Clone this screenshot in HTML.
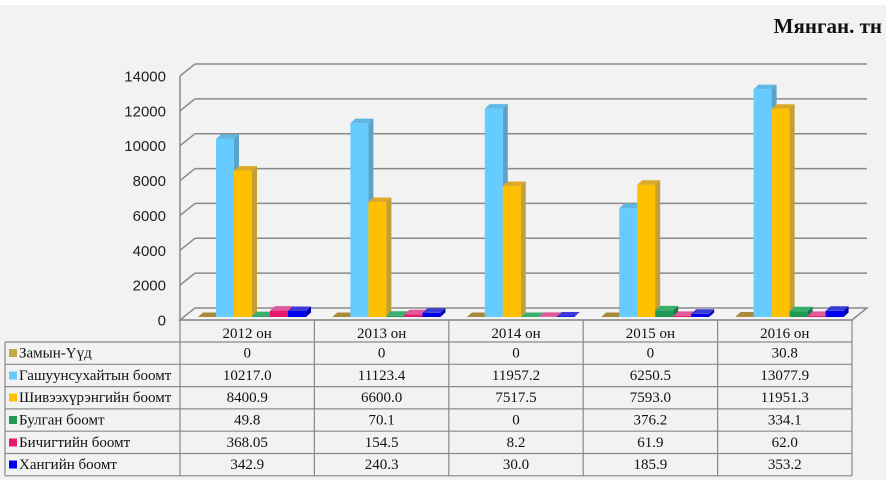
<!DOCTYPE html>
<html><head><meta charset="utf-8"><style>
html,body{margin:0;padding:0;background:#fff;}
svg{display:block;}
.f0{fill:#c0a040}.t0{fill:#a88a3a}.d0{fill:#8a7030}
.f1{fill:#66ccff}.t1{fill:#5fb8e2}.d1{fill:#5ba3c8}
.f2{fill:#ffc000}.t2{fill:#dcaa28}.d2{fill:#c4a032}
.f3{fill:#1f9a55}.t3{fill:#3aae6c}.d3{fill:#177a43}
.f4{fill:#e8186e}.t4{fill:#e0589a}.d4{fill:#a81050}
.f5{fill:#0000ee}.t5{fill:#3a3ad8}.d5{fill:#0000a8}
.ax{font-family:"Liberation Sans",sans-serif;font-size:15px;fill:#222;}
.tb{font-family:"Liberation Serif","DejaVu Serif",serif;font-size:15px;fill:#111;}
</style></head><body>
<svg width="891" height="480" viewBox="0 0 891 480" xmlns="http://www.w3.org/2000/svg">
<rect x="0" y="5" width="886" height="475" fill="#f2f2f2"/>
<text x="882" y="33" text-anchor="end" font-family="Liberation Serif, serif" font-weight="bold" font-size="21" fill="#111">Мянган. тн</text>

<!-- grid -->
<g stroke="#8a8a8a" stroke-width="1.5" fill="none">
<polygon points="180,320 195,308 867,308 852,320" fill="#f3f3f3"/>
<line x1="195" y1="273.14" x2="867" y2="273.14"/><line x1="180" y1="285.14" x2="195" y2="273.14"/>
<line x1="195" y1="238.29" x2="867" y2="238.29"/><line x1="180" y1="250.29" x2="195" y2="238.29"/>
<line x1="195" y1="203.43" x2="867" y2="203.43"/><line x1="180" y1="215.43" x2="195" y2="203.43"/>
<line x1="195" y1="168.57" x2="867" y2="168.57"/><line x1="180" y1="180.57" x2="195" y2="168.57"/>
<line x1="195" y1="133.71" x2="867" y2="133.71"/><line x1="180" y1="145.71" x2="195" y2="133.71"/>
<line x1="195" y1="98.86" x2="867" y2="98.86"/><line x1="180" y1="110.86" x2="195" y2="98.86"/>
<line x1="195" y1="64" x2="867" y2="64"/><line x1="180" y1="76" x2="195" y2="64"/>
<line x1="180" y1="76" x2="180" y2="320"/>
</g>

<g class="ax" text-anchor="end">
<text x="166" y="325.5">0</text>
<text x="166" y="290.6">2000</text>
<text x="166" y="255.8">4000</text>
<text x="166" y="220.9">6000</text>
<text x="166" y="186.1">8000</text>
<text x="166" y="151.2">10000</text>
<text x="166" y="116.4">12000</text>
<text x="166" y="81.5">14000</text>
</g>

<!-- bars 2012 -->
<g transform="translate(198,0)"><polygon class="t0" points="0,317 18,317 23,312.5 5,312.5"/></g>
<g transform="translate(216,0)"><rect class="f1" y="138.9" width="18" height="178.1"/><polygon class="t1" points="0,138.9 18,138.9 23,134.4 5,134.4"/><polygon class="d1" points="18,138.9 23,134.4 23,312.5 18,317"/></g>
<g transform="translate(234,0)"><rect class="f2" y="170.6" width="18" height="146.4"/><polygon class="t2" points="0,170.6 18,170.6 23,166.1 5,166.1"/><polygon class="d2" points="18,170.6 23,166.1 23,312.5 18,317"/></g>
<g transform="translate(252,0)"><rect class="f3" y="316.1" width="18" height="0.9"/><polygon class="t3" points="0,316.1 18,316.1 23,311.6 5,311.6"/><polygon class="d3" points="18,316.1 23,311.6 23,312.5 18,317"/></g>
<g transform="translate(270,0)"><rect class="f4" y="310.6" width="18" height="6.4"/><polygon class="t4" points="0,310.6 18,310.6 23,306.1 5,306.1"/><polygon class="d4" points="18,310.6 23,306.1 23,312.5 18,317"/></g>
<g transform="translate(288,0)"><rect class="f5" y="311" width="18" height="6"/><polygon class="t5" points="0,311 18,311 23,306.5 5,306.5"/><polygon class="d5" points="18,311 23,306.5 23,312.5 18,317"/></g>

<!-- bars 2013 -->
<g transform="translate(332.4,0)"><polygon class="t0" points="0,317 18,317 23,312.5 5,312.5"/></g>
<g transform="translate(350.4,0)"><rect class="f1" y="123.1" width="18" height="193.9"/><polygon class="t1" points="0,123.1 18,123.1 23,118.6 5,118.6"/><polygon class="d1" points="18,123.1 23,118.6 23,312.5 18,317"/></g>
<g transform="translate(368.4,0)"><rect class="f2" y="202" width="18" height="115"/><polygon class="t2" points="0,202 18,202 23,197.5 5,197.5"/><polygon class="d2" points="18,202 23,197.5 23,312.5 18,317"/></g>
<g transform="translate(386.4,0)"><rect class="f3" y="315.8" width="18" height="1.2"/><polygon class="t3" points="0,315.8 18,315.8 23,311.3 5,311.3"/><polygon class="d3" points="18,315.8 23,311.3 23,312.5 18,317"/></g>
<g transform="translate(404.4,0)"><rect class="f4" y="314.3" width="18" height="2.7"/><polygon class="t4" points="0,314.3 18,314.3 23,309.8 5,309.8"/><polygon class="d4" points="18,314.3 23,309.8 23,312.5 18,317"/></g>
<g transform="translate(422.4,0)"><rect class="f5" y="312.8" width="18" height="4.2"/><polygon class="t5" points="0,312.8 18,312.8 23,308.3 5,308.3"/><polygon class="d5" points="18,312.8 23,308.3 23,312.5 18,317"/></g>

<!-- bars 2014 -->
<g transform="translate(466.8,0)"><polygon class="t0" points="0,317 18,317 23,312.5 5,312.5"/></g>
<g transform="translate(484.8,0)"><rect class="f1" y="108.6" width="18" height="208.4"/><polygon class="t1" points="0,108.6 18,108.6 23,104.1 5,104.1"/><polygon class="d1" points="18,108.6 23,104.1 23,312.5 18,317"/></g>
<g transform="translate(502.8,0)"><rect class="f2" y="186" width="18" height="131"/><polygon class="t2" points="0,186 18,186 23,181.5 5,181.5"/><polygon class="d2" points="18,186 23,181.5 23,312.5 18,317"/></g>
<g transform="translate(520.8,0)"><polygon class="t3" points="0,317 18,317 23,312.5 5,312.5"/></g>
<g transform="translate(538.8,0)"><polygon class="t4" points="0,316.9 18,316.9 23,312.4 5,312.4"/></g>
<g transform="translate(556.8,0)"><rect class="f5" y="316.5" width="18" height="0.5"/><polygon class="t5" points="0,316.5 18,316.5 23,312 5,312"/></g>

<!-- bars 2015 -->
<g transform="translate(601.2,0)"><polygon class="t0" points="0,317 18,317 23,312.5 5,312.5"/></g>
<g transform="translate(619.2,0)"><rect class="f1" y="208.1" width="18" height="108.9"/><polygon class="t1" points="0,208.1 18,208.1 23,203.6 5,203.6"/><polygon class="d1" points="18,208.1 23,203.6 23,312.5 18,317"/></g>
<g transform="translate(637.2,0)"><rect class="f2" y="184.7" width="18" height="132.3"/><polygon class="t2" points="0,184.7 18,184.7 23,180.2 5,180.2"/><polygon class="d2" points="18,184.7 23,180.2 23,312.5 18,317"/></g>
<g transform="translate(655.2,0)"><rect class="f3" y="310.4" width="18" height="6.6"/><polygon class="t3" points="0,310.4 18,310.4 23,305.9 5,305.9"/><polygon class="d3" points="18,310.4 23,305.9 23,312.5 18,317"/></g>
<g transform="translate(673.2,0)"><rect class="f4" y="315.9" width="18" height="1.1"/><polygon class="t4" points="0,315.9 18,315.9 23,311.4 5,311.4"/><polygon class="d4" points="18,315.9 23,311.4 23,312.5 18,317"/></g>
<g transform="translate(691.2,0)"><rect class="f5" y="313.8" width="18" height="3.2"/><polygon class="t5" points="0,313.8 18,313.8 23,309.3 5,309.3"/><polygon class="d5" points="18,313.8 23,309.3 23,312.5 18,317"/></g>

<!-- bars 2016 -->
<g transform="translate(735.6,0)"><rect class="f0" y="316.5" width="18" height="0.5"/><polygon class="t0" points="0,316.5 18,316.5 23,312 5,312"/></g>
<g transform="translate(753.6,0)"><rect class="f1" y="89.1" width="18" height="227.9"/><polygon class="t1" points="0,89.1 18,89.1 23,84.6 5,84.6"/><polygon class="d1" points="18,89.1 23,84.6 23,312.5 18,317"/></g>
<g transform="translate(771.6,0)"><rect class="f2" y="108.7" width="18" height="208.3"/><polygon class="t2" points="0,108.7 18,108.7 23,104.2 5,104.2"/><polygon class="d2" points="18,108.7 23,104.2 23,312.5 18,317"/></g>
<g transform="translate(789.6,0)"><rect class="f3" y="311.2" width="18" height="5.8"/><polygon class="t3" points="0,311.2 18,311.2 23,306.7 5,306.7"/><polygon class="d3" points="18,311.2 23,306.7 23,312.5 18,317"/></g>
<g transform="translate(807.6,0)"><rect class="f4" y="315.9" width="18" height="1.1"/><polygon class="t4" points="0,315.9 18,315.9 23,311.4 5,311.4"/><polygon class="d4" points="18,315.9 23,311.4 23,312.5 18,317"/></g>
<g transform="translate(825.6,0)"><rect class="f5" y="310.8" width="18" height="6.2"/><polygon class="t5" points="0,310.8 18,310.8 23,306.3 5,306.3"/><polygon class="d5" points="18,310.8 23,306.3 23,312.5 18,317"/></g>

<!-- table -->
<g stroke="#8a8a8a" stroke-width="1.2" fill="none">
<line x1="180" y1="320" x2="852" y2="320"/>
<line x1="5" y1="342" x2="852" y2="342"/>
<line x1="5" y1="364.3" x2="852" y2="364.3"/>
<line x1="5" y1="386.6" x2="852" y2="386.6"/>
<line x1="5" y1="408.9" x2="852" y2="408.9"/>
<line x1="5" y1="431.2" x2="852" y2="431.2"/>
<line x1="5" y1="453.5" x2="852" y2="453.5"/>
<line x1="5" y1="475.8" x2="852" y2="475.8"/>
<line x1="5" y1="342" x2="5" y2="475.8"/>
<line x1="180" y1="320" x2="180" y2="475.8"/>
<line x1="314.4" y1="320" x2="314.4" y2="475.8"/>
<line x1="448.8" y1="320" x2="448.8" y2="475.8"/>
<line x1="583.2" y1="320" x2="583.2" y2="475.8"/>
<line x1="717.6" y1="320" x2="717.6" y2="475.8"/>
<line x1="852" y1="320" x2="852" y2="475.8"/>
</g>

<rect x="9" y="349" width="8" height="8" fill="#c8a846"/>
<rect x="9" y="371.5" width="8" height="8" fill="#66ccff"/>
<rect x="9" y="393.5" width="8" height="8" fill="#ffc000"/>
<rect x="9" y="416" width="8" height="8" fill="#1f9a55"/>
<rect x="9" y="438.5" width="8" height="8" fill="#e8186e"/>
<rect x="9" y="460.5" width="8" height="8" fill="#0000ee"/>

<g class="tb">
<text x="19" y="357.5">Замын-Үүд</text>
<text x="19" y="380">Гашуунсухайтын боомт</text>
<text x="19" y="402">Шивээхүрэнгийн боомт</text>
<text x="19" y="424.5">Булган боомт</text>
<text x="19" y="447">Бичигтийн боомт</text>
<text x="19" y="469">Хангийн боомт</text>
</g>
<g class="tb" text-anchor="middle">
<text x="247.2" y="338">2012 он</text>
<text x="381.6" y="338">2013 он</text>
<text x="516" y="338">2014 он</text>
<text x="650.4" y="338">2015 он</text>
<text x="784.8" y="338">2016 он</text>

<text x="247.2" y="357.5">0</text><text x="381.6" y="357.5">0</text><text x="516" y="357.5">0</text><text x="650.4" y="357.5">0</text><text x="784.8" y="357.5">30.8</text>
<text x="247.2" y="380">10217.0</text><text x="381.6" y="380">11123.4</text><text x="516" y="380">11957.2</text><text x="650.4" y="380">6250.5</text><text x="784.8" y="380">13077.9</text>
<text x="247.2" y="402">8400.9</text><text x="381.6" y="402">6600.0</text><text x="516" y="402">7517.5</text><text x="650.4" y="402">7593.0</text><text x="784.8" y="402">11951.3</text>
<text x="247.2" y="424.5">49.8</text><text x="381.6" y="424.5">70.1</text><text x="516" y="424.5">0</text><text x="650.4" y="424.5">376.2</text><text x="784.8" y="424.5">334.1</text>
<text x="247.2" y="447">368.05</text><text x="381.6" y="447">154.5</text><text x="516" y="447">8.2</text><text x="650.4" y="447">61.9</text><text x="784.8" y="447">62.0</text>
<text x="247.2" y="469">342.9</text><text x="381.6" y="469">240.3</text><text x="516" y="469">30.0</text><text x="650.4" y="469">185.9</text><text x="784.8" y="469">353.2</text>
</g>
</svg>
</body></html>
